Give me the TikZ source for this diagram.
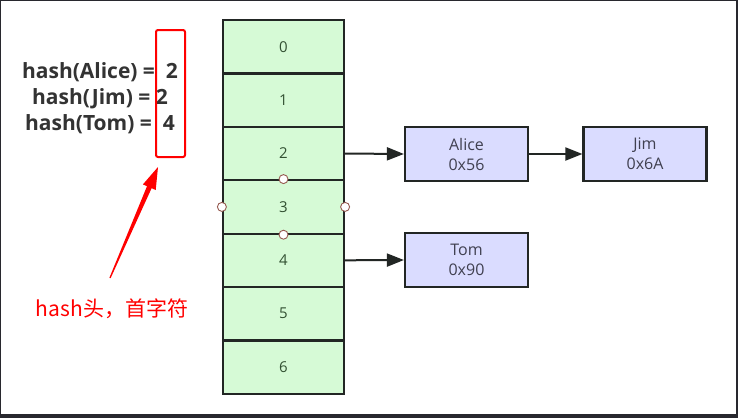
\documentclass[tikz,border=0pt]{standalone}
\usepackage{fontspec}
\setmainfont{Open Sans}
\newfontfamily\hashfont{Open Sans}[BoldFont={* Bold}]
\newfontfamily\cjk{Noto Sans CJK SC}
\usetikzlibrary{arrows.meta}
\definecolor{cellfill}{RGB}{214,250,214}
\definecolor{boxfill}{RGB}{218,220,255}
\definecolor{edge}{RGB}{34,38,36}
\definecolor{celltext}{RGB}{50,80,50}
\definecolor{boxtext}{RGB}{64,64,80}
\definecolor{handle}{RGB}{150,90,80}
\definecolor{frame}{RGB}{40,40,46}
\tikzset{
  cell/.style={draw=edge, line width=2.2pt, fill=cellfill, minimum width=121pt, minimum height=53.4pt, inner sep=0pt, text=celltext, font=\fontsize{15}{15}\selectfont},
  entry/.style={draw=edge, line width=2.2pt, fill=boxfill, minimum width=123pt, minimum height=54pt, inner sep=0pt, align=center, text=boxtext, font=\fontsize{16}{20}\selectfont},
  link/.style={draw=edge, line width=2pt, -{Triangle[length=17pt,width=13pt]}},
  handledot/.style={circle, draw=handle, fill=white, line width=0.9pt, minimum size=9pt, inner sep=0pt},
}
\begin{document}
\begin{tikzpicture}[x=1pt,y=-1pt]
\fill[frame] (0,0) rectangle (738,418);
\fill[white] (1,1) rectangle (736,414);
\useasboundingbox (0,0) rectangle (738,418);
% cells
\foreach \i in {0,...,6} {
  \node[cell] (c\i) at (283.5, {20+53.4*\i+26.7}) {\i};
}
% entries
\node[entry] (alice) at (466.5,154) {Alice\\0x56};
\node[entry] (jim) at (645,154) {Jim\\0x6A};
\node[entry] (tom) at (466.5,260) {Tom\\0x90};
\draw[link] (c2.east) -- (alice.west);
\draw[link] (alice.east) -- (jim.west);
\draw[link] (c4.east) -- (tom.west);
% selection handles
\node[handledot] (h1) at (c3.north) {};
\node[handledot] (h2) at (c3.south) {};
\node[handledot] (h3) at (c3.west) {};
\node[handledot] (h4) at (c3.east) {};
% hash text
\node[align=center, text=black!80, font=\hashfont\bfseries\fontsize{21}{26}\selectfont] (hashes) at (100,98)
  {hash(Alice) =\ \ 2\\hash(Jim) = 2\\hash(Tom) =\ \ 4};
% red box
\node[draw=red, line width=2pt, rounded corners=2pt, minimum width=29pt, minimum height=127pt, inner sep=0pt] (redbox) at (170.5,93.5) {};
% red arrow
\coordinate (tip) at (158,167);
\coordinate (tail) at (110,278);
\fill[red] (tip) -- (155.7,190.0) -- (151.6,188.2) -- (110.6,278.2) -- (109.4,277.8) -- (147.0,186.2) -- (142.9,184.4) -- cycle;
% red label
\node[text=red, font=\cjk\fontsize{21}{21}\selectfont] (label) at (112,309) {hash头，首字符};
\end{tikzpicture}
\end{document}
